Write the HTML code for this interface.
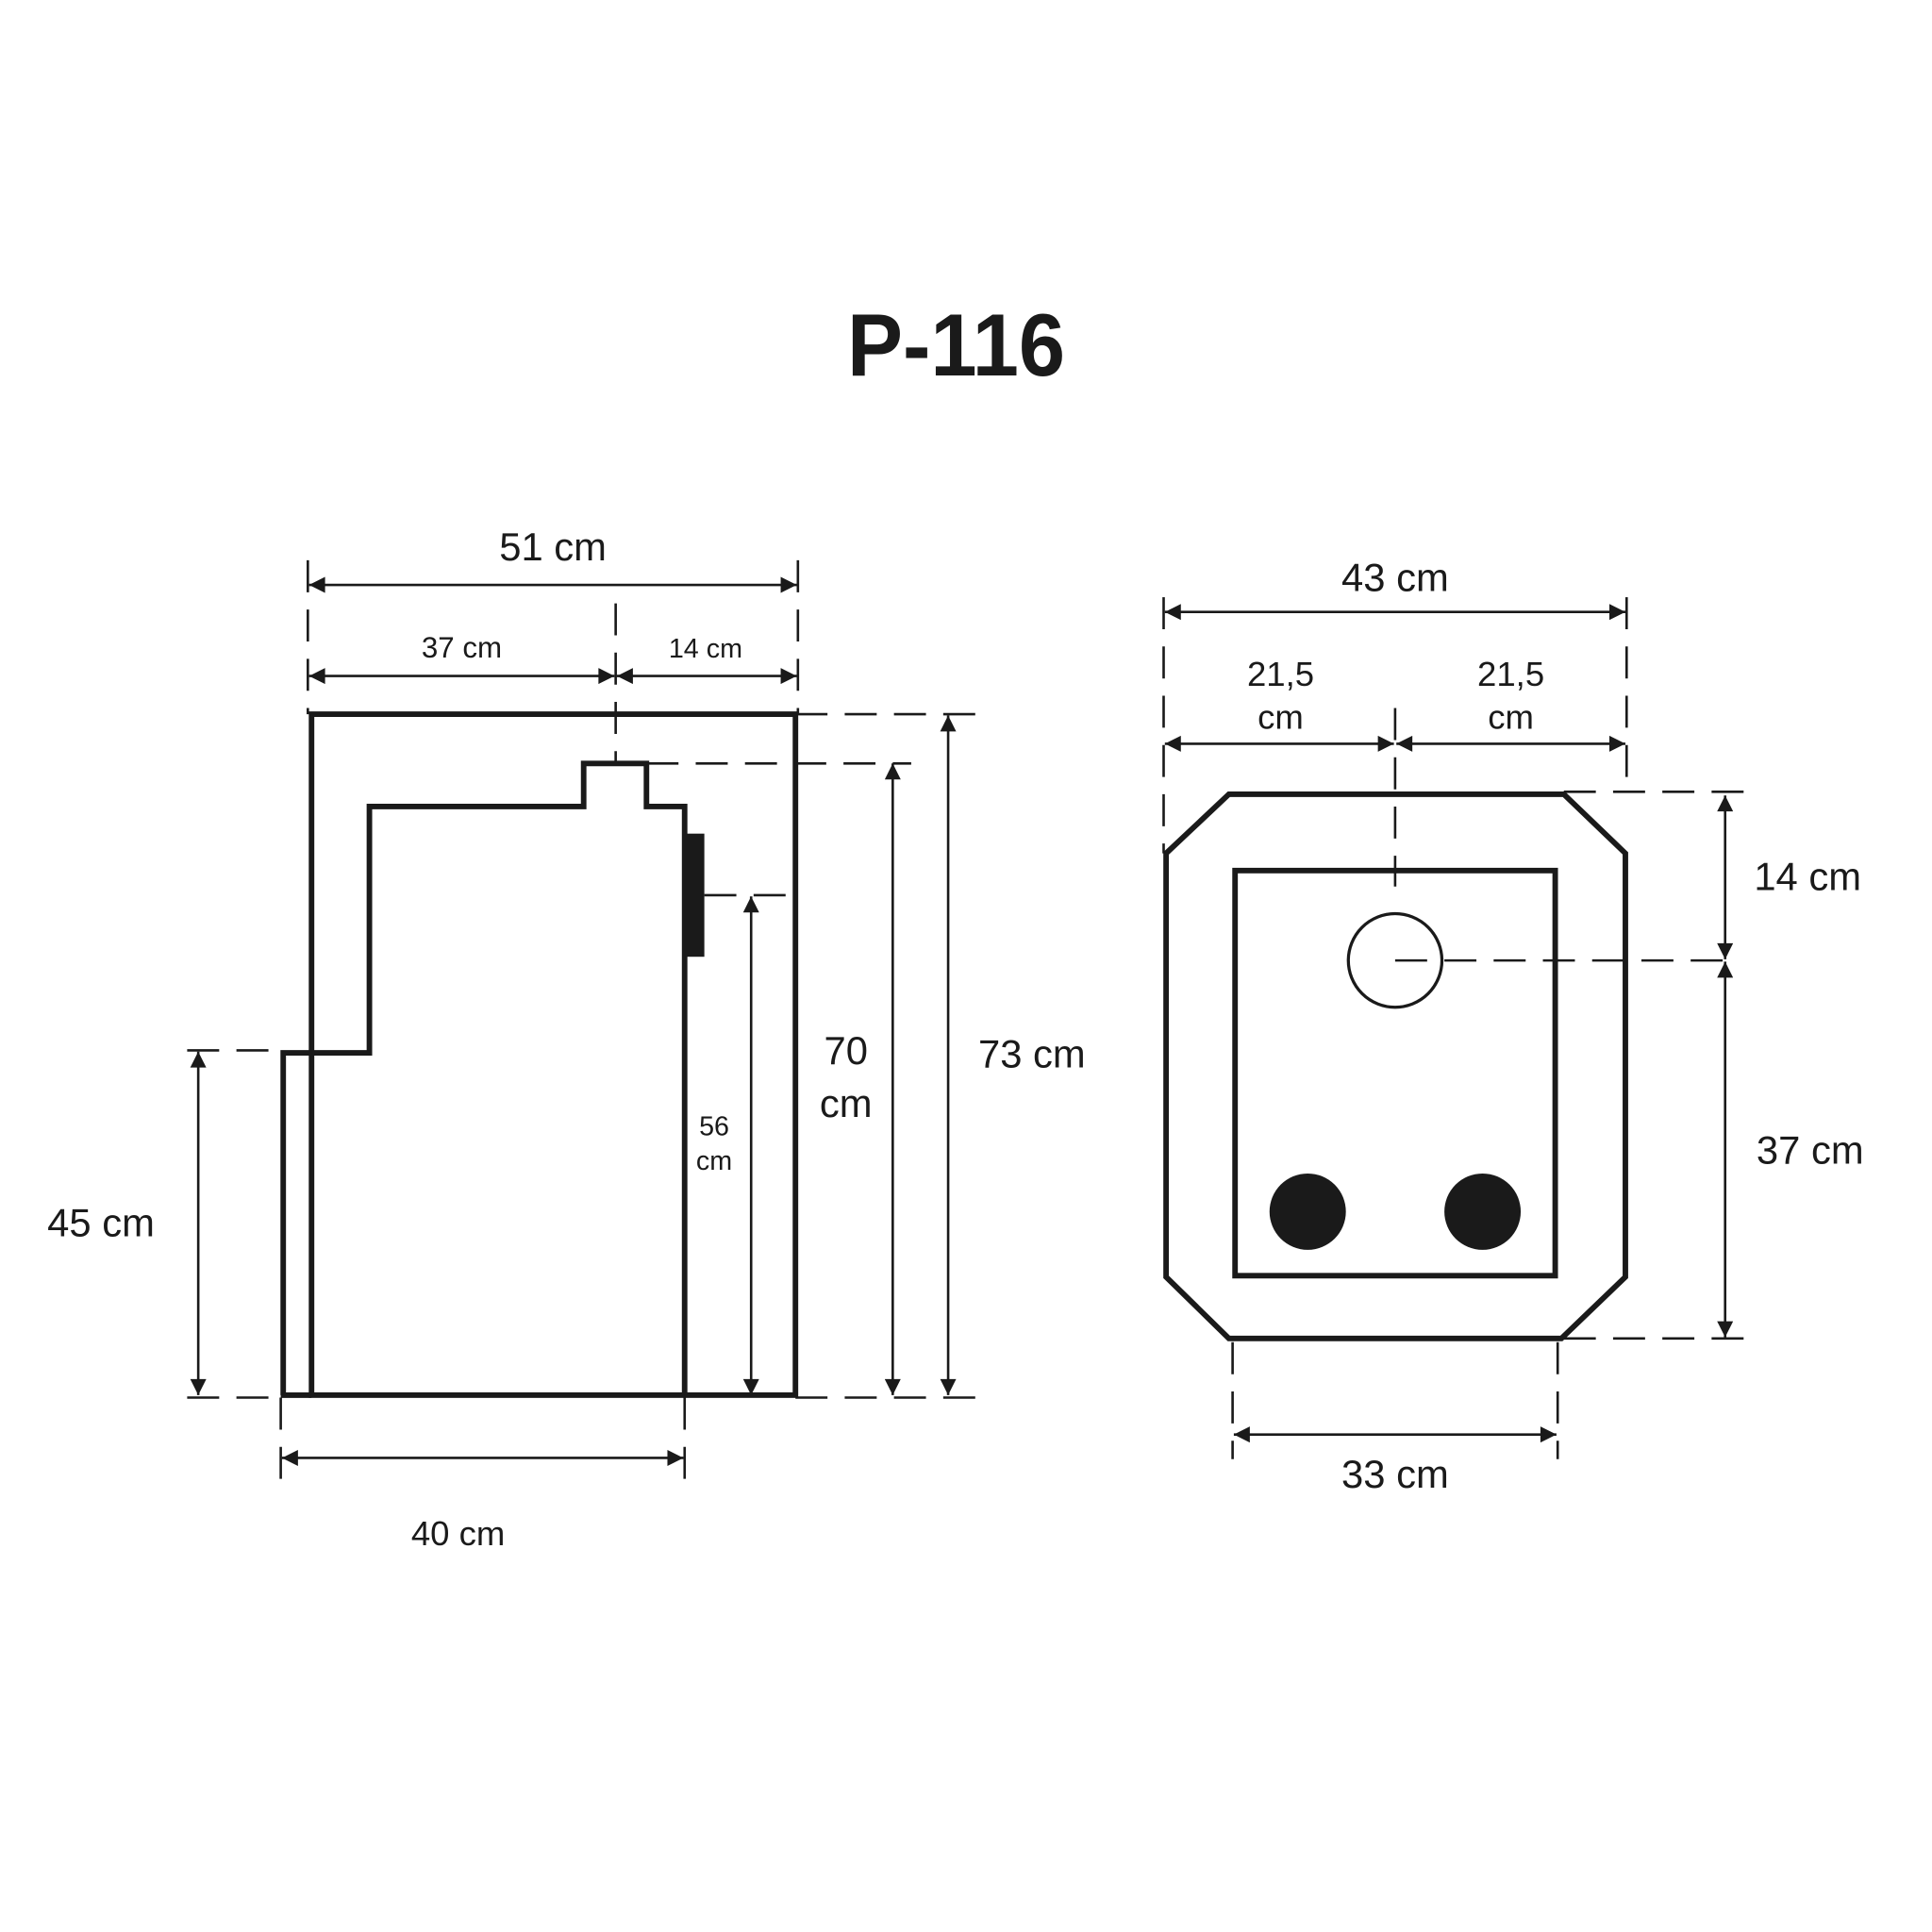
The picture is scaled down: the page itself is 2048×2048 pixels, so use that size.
<!DOCTYPE html>
<html><head><meta charset="utf-8"><style>
html,body{margin:0;padding:0;background:#fff}
svg{display:block}
text{font-family:"Liberation Sans",sans-serif;fill:#1a1a1a}
</style></head><body>
<svg width="2048" height="2048" viewBox="0 0 1569 1569" xmlns="http://www.w3.org/2000/svg">
<defs>
<marker id="a" viewBox="0 0 10 10" refX="10" refY="5" markerWidth="15" markerHeight="13" markerUnits="userSpaceOnUse" orient="auto-start-reverse"><path d="M0,0 L10,5 L0,10 z" fill="#1a1a1a"/></marker>
</defs>
<text x="688" y="305" font-size="72" font-weight="bold" textLength="177" lengthAdjust="spacingAndGlyphs">P-116</text>

<!-- LEFT -->
<g fill="none" stroke="#1a1a1a" stroke-width="4.5">
<rect x="253" y="580" width="393" height="553"/>
<path d="M230,1133 L230,855 L300,855 L300,655 L474,655 L474,620 L525,620 L525,655 L556,655 L556,1133"/>
<line x1="228" y1="1133" x2="253" y2="1133"/>
</g>
<rect x="556" y="677" width="16" height="100" fill="#1a1a1a"/>
<g stroke="#1a1a1a" stroke-width="2" stroke-dasharray="26,14" fill="none">
<line x1="646" y1="580" x2="806" y2="580"/>
<line x1="525" y1="620" x2="740" y2="620"/>
<line x1="572" y1="727" x2="640" y2="727"/>
<line x1="152" y1="853" x2="230" y2="853"/>
<line x1="152" y1="1135" x2="230" y2="1135"/>
<line x1="646" y1="1135" x2="806" y2="1135"/>
<line x1="500" y1="490" x2="500" y2="620"/>
<line x1="250" y1="455" x2="250" y2="580"/>
<line x1="648" y1="455" x2="648" y2="580"/>
<line x1="228" y1="1135" x2="228" y2="1205"/>
<line x1="556" y1="1135" x2="556" y2="1205"/>
</g>
<g stroke="#1a1a1a" stroke-width="2" marker-start="url(#a)" marker-end="url(#a)">
<line x1="251" y1="475" x2="647" y2="475"/>
<line x1="251" y1="549" x2="499" y2="549"/>
<line x1="501" y1="549" x2="647" y2="549"/>
<line x1="725" y1="620" x2="725" y2="1133"/>
<line x1="770" y1="581" x2="770" y2="1133"/>
<line x1="610" y1="728" x2="610" y2="1133"/>
<line x1="161" y1="854" x2="161" y2="1133"/>
<line x1="229" y1="1184" x2="555" y2="1184"/>
</g>
<text x="449" y="455" font-size="32" text-anchor="middle">51 cm</text>
<text x="375" y="534" font-size="24" text-anchor="middle">37 cm</text>
<text x="573" y="534" font-size="22" text-anchor="middle">14 cm</text>
<text x="687" y="864" font-size="32" text-anchor="middle">70</text>
<text x="687" y="907" font-size="32" text-anchor="middle">cm</text>
<text x="838" y="867" font-size="32" text-anchor="middle">73 cm</text>
<text x="580" y="922" font-size="22" text-anchor="middle">56</text>
<text x="580" y="950" font-size="22" text-anchor="middle">cm</text>
<text x="82" y="1004" font-size="32" text-anchor="middle">45 cm</text>
<text x="372" y="1255" font-size="28" text-anchor="middle">40 cm</text>

<!-- RIGHT -->
<g fill="none" stroke="#1a1a1a" stroke-width="4.5">
<path d="M998,645 L1270,645 L1320,693 L1320,1037 L1268,1087 L998,1087 L947,1037 L947,693 Z"/>
<rect x="1003" y="707" width="260" height="329"/>
</g>
<circle cx="1133" cy="780" r="38" fill="none" stroke="#1a1a1a" stroke-width="2.5"/>
<circle cx="1062" cy="984" r="31" fill="#1a1a1a"/>
<circle cx="1204" cy="984" r="31" fill="#1a1a1a"/>
<g stroke="#1a1a1a" stroke-width="2" stroke-dasharray="26,14" fill="none">
<line x1="945" y1="485" x2="945" y2="693"/>
<line x1="1321" y1="485" x2="1321" y2="645"/>
<line x1="1133" y1="575" x2="1133" y2="720"/>
<line x1="1270" y1="643" x2="1428" y2="643"/>
<line x1="1133" y1="780" x2="1410" y2="780"/>
<line x1="1270" y1="1087" x2="1428" y2="1087"/>
<line x1="1001" y1="1090" x2="1001" y2="1185"/>
<line x1="1265" y1="1090" x2="1265" y2="1185"/>
</g>
<g stroke="#1a1a1a" stroke-width="2" marker-start="url(#a)" marker-end="url(#a)">
<line x1="946" y1="497" x2="1320" y2="497"/>
<line x1="946" y1="604" x2="1132" y2="604"/>
<line x1="1134" y1="604" x2="1320" y2="604"/>
<line x1="1401" y1="646" x2="1401" y2="779"/>
<line x1="1401" y1="781" x2="1401" y2="1086"/>
<line x1="1002" y1="1165" x2="1264" y2="1165"/>
</g>
<text x="1133" y="480" font-size="32" text-anchor="middle">43 cm</text>
<text x="1040" y="557" font-size="28" text-anchor="middle">21,5</text>
<text x="1040" y="592" font-size="28" text-anchor="middle">cm</text>
<text x="1227" y="557" font-size="28" text-anchor="middle">21,5</text>
<text x="1227" y="592" font-size="28" text-anchor="middle">cm</text>
<text x="1468" y="723" font-size="32" text-anchor="middle">14 cm</text>
<text x="1470" y="945" font-size="32" text-anchor="middle">37 cm</text>
<text x="1133" y="1208" font-size="32" text-anchor="middle">33 cm</text>
</svg>
</body></html>
